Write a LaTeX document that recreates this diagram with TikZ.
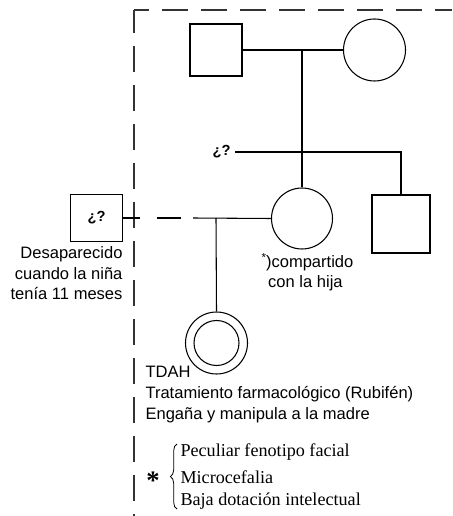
\documentclass[tikz,border=0pt]{standalone}
\usepackage{fontspec}
\setmainfont{Liberation Serif}
\setsansfont{Liberation Sans}
\usetikzlibrary{decorations.pathreplacing}
\begin{document}
\begin{tikzpicture}[x=0.75pt,y=-0.75pt,
  line width=0.8pt,
  male/.style={draw,rectangle,inner sep=0pt,minimum width=#1*0.75pt,minimum height=#1*0.75pt},
  female/.style={draw,circle,inner sep=0pt,minimum size=#1*0.75pt},
  frame/.style={line width=1.1pt,dash pattern=on 19.5pt off 9.75pt,black!80},
  lbl/.style={font=\sffamily\fontsize{12.4}{15.5}\selectfont,inner sep=0pt},
  item/.style={font=\rmfamily\fontsize{13.6}{15}\selectfont,inner sep=0pt,anchor=west}]
\useasboundingbox (0,0) rectangle (452,516);
% frame
\draw[frame,dash phase=8.25pt] (134,10) -- (452,10);
\draw[frame,dash phase=2.25pt] (134,10) -- (134,516);
% grandparents
\node[male=52] (gf) at (216,50) {};
\node[female=62] (gm) at (374.5,50) {};
\draw (gf.east) -- (gm.west);
\coordinate (m1) at (302,50);
% mother and brother
\node[female=61] (mo) at (302,218.5) {};
\node[male=58] (br) at (401,224) {};
\coordinate (sib) at (235,152);
\coordinate (sibR) at (401,152);
\node[lbl,anchor=east,font=\sffamily\bfseries\fontsize{11}{13}\selectfont] (q1) at (231,152) {¿?};
\draw (m1) -- (mo.north);
\draw (sib) -- (sibR) -- (br.north);
% father of child
\node[male=52,minimum height=47*0.75pt,font=\sffamily\bfseries\fontsize{11}{13}\selectfont] (fa) at (96.5,218) {¿?};
\coordinate (c1) at (193,218);
\coordinate (d1) at (216,218);
\draw[dash pattern=on 12.75pt off 12.75pt on 18pt off 9pt] (fa.east) -- (c1);
\draw (c1) -- (mo.west);
% child
\node[female=62] (ch) at (216.5,343) {};
\node[female=45] (chi) at (216.5,343) {};
\draw (d1) -- (ch.north);
% labels
\node[lbl,align=right,anchor=north east] (desc) at (123,246)
  {Desaparecido\\cuando la niña\\tenía 11 meses};
\node[lbl,align=left,anchor=north west] (comp) at (261,253)
  {\textsuperscript{*}\hspace{-0.5pt})compartido\\\hspace{5pt}con la hija};
\node[lbl,align=left,anchor=north west] (tdah) at (145,366)
  {TDAH\\Tratamiento farmacológico (Rubifén)\\Engaña y manipula a la madre};
% brace list
\node[font=\rmfamily\bfseries\fontsize{20}{20}\selectfont,inner sep=0pt] (star) at (153,481) {*};
\draw[line width=0.6pt,decorate,decoration={brace,amplitude=5pt}] (177,509) -- (177,444);
\node[item] (i1) at (180,452) {Peculiar fenotipo facial};
\node[item] (i2) at (180,477) {Microcefalia};
\node[item] (i3) at (180,501) {Baja dotación intelectual};
\end{tikzpicture}
\end{document}
